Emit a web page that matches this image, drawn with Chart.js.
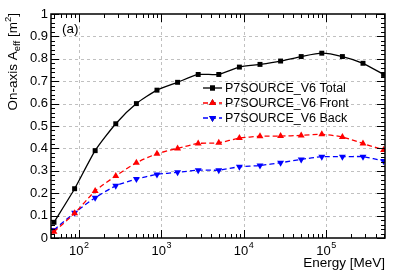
<!DOCTYPE html>
<html lang="en">

<head>
    <meta charset="UTF-8">
    <title>On-axis effective area</title>
    <script src="https://cdn.jsdelivr.net/npm/chart.js"></script>
    <style>
        body { margin: 0; background: #fff; }
    </style>
</head>

<body>
    <canvas id="aeffChart" width="399" height="274"></canvas>

    <script>
        // energies in MeV (4 points per decade)
        const energies = [50, 89, 158, 281, 500, 889, 1581, 2812, 5000, 8891, 15811, 28117, 50000, 88914, 158114, 281171, 500000];
        const totalAeff = [0.07, 0.22, 0.39, 0.51, 0.60, 0.66, 0.695, 0.73, 0.73, 0.763, 0.775, 0.79, 0.81, 0.825, 0.81, 0.78, 0.73];
        const frontAeff = [0.028, 0.11, 0.21, 0.277, 0.336, 0.376, 0.40, 0.422, 0.425, 0.446, 0.454, 0.455, 0.458, 0.463, 0.451, 0.422, 0.393];
        const backAeff = [0.036, 0.113, 0.18, 0.233, 0.263, 0.284, 0.293, 0.303, 0.303, 0.318, 0.324, 0.336, 0.351, 0.363, 0.363, 0.363, 0.344];
        const seriesNames = ['P7SOURCE_V6 Total', 'P7SOURCE_V6 Front', 'P7SOURCE_V6 Back'];
        const xDecades = [2, 3, 4, 5];
        const yTicks = [0, 0.1, 0.2, 0.3, 0.4, 0.5, 0.6, 0.7, 0.8, 0.9, 1];

        const FONT = '"Liberation Sans", Arial, sans-serif';

        function points(values) {
            return energies.map((e, i) => ({ x: e, y: values[i] }));
        }

        // ROOT-like frame, inner ticks, dashed grid, labels and legend
        const rootStyle = {
            id: 'rootStyle',
            beforeDatasetsDraw(chart) {
                const { ctx, chartArea: a, scales: { x, y } } = chart;
                ctx.save();
                ctx.strokeStyle = '#c0c0c0';
                ctx.lineWidth = 1;
                ctx.setLineDash([3, 3]);
                xDecades.forEach(d => {
                    const px = Math.round(x.getPixelForValue(Math.pow(10, d))) + 0.5;
                    ctx.beginPath();
                    ctx.moveTo(px, a.top);
                    ctx.lineTo(px, a.bottom);
                    ctx.stroke();
                });
                yTicks.slice(1, -1).forEach(v => {
                    const py = Math.round(y.getPixelForValue(v)) + 0.5;
                    ctx.beginPath();
                    ctx.moveTo(a.left, py);
                    ctx.lineTo(a.right, py);
                    ctx.stroke();
                });
                ctx.restore();
            },
            afterDatasetsDraw(chart) {
                const { ctx, chartArea: a, scales: { x, y } } = chart;
                ctx.save();
                ctx.strokeStyle = '#000';
                ctx.lineWidth = 1;
                ctx.beginPath();
                // y ticks, major every 0.1, minor every 0.02
                for (let k = 0; k <= 50; k++) {
                    const py = Math.round(y.getPixelForValue(k * 0.02)) + 0.5;
                    const len = k % 5 === 0 ? 8 : 4;
                    ctx.moveTo(a.left, py); ctx.lineTo(a.left + len, py);
                    ctx.moveTo(a.right, py); ctx.lineTo(a.right - len, py);
                }
                // x ticks, log axis
                for (let d = 1; d <= 5; d++) {
                    for (let m = 1; m <= 9; m++) {
                        const e = m * Math.pow(10, d);
                        if (e < x.min || e > x.max) continue;
                        const px = Math.round(x.getPixelForValue(e)) + 0.5;
                        const len = m === 1 ? 8 : 4;
                        ctx.moveTo(px, a.bottom); ctx.lineTo(px, a.bottom - len);
                        ctx.moveTo(px, a.top); ctx.lineTo(px, a.top + len);
                    }
                }
                ctx.stroke();
                ctx.lineWidth = 1.5;
                ctx.strokeRect(a.left, a.top, a.right - a.left, a.bottom - a.top);
                ctx.restore();
            },
            afterDraw(chart) {
                const { ctx, chartArea: a, scales: { x } } = chart;
                ctx.save();
                ctx.fillStyle = '#000';
                ctx.textBaseline = 'alphabetic';

                // x tick labels 10^n
                xDecades.forEach(d => {
                    const px = x.getPixelForValue(Math.pow(10, d));
                    ctx.font = '13px ' + FONT;
                    const wb = ctx.measureText('10').width;
                    ctx.font = '9px ' + FONT;
                    const we = ctx.measureText(String(d)).width;
                    const x0 = px - (wb + we) / 2;
                    ctx.font = '13px ' + FONT;
                    ctx.fillText('10', x0, 255);
                    ctx.font = '9px ' + FONT;
                    ctx.fillText(String(d), x0 + wb + 0.5, 248);
                });

                // x title
                ctx.font = '13.5px ' + FONT;
                ctx.textAlign = 'right';
                ctx.fillText('Energy [MeV]', a.right, 267);

                // y title, rotated, aligned to top
                const parts = [
                    { t: 'On-axis A', size: 13.5, dy: 0 },
                    { t: 'eff', size: 9.5, dy: 3 },
                    { t: ' [m', size: 13.5, dy: 0 },
                    { t: '2', size: 9.5, dy: -6 },
                    { t: ']', size: 13.5, dy: 0 }
                ];
                let total = 0;
                parts.forEach(p => { ctx.font = p.size + 'px ' + FONT; p.w = ctx.measureText(p.t).width; total += p.w; });
                ctx.translate(17, 13);
                ctx.rotate(-Math.PI / 2);
                ctx.textAlign = 'left';
                let cx = -total;
                parts.forEach(p => {
                    ctx.font = p.size + 'px ' + FONT;
                    ctx.fillText(p.t, cx, p.dy);
                    cx += p.w;
                });
                ctx.setTransform(1, 0, 0, 1, 0, 0);

                // (a) label
                ctx.font = '13.5px ' + FONT;
                ctx.textAlign = 'left';
                ctx.fillText('(a)', 62, 33);

                // legend
                chart.data.datasets.forEach((ds, i) => {
                    const ly = 88 + i * 15;
                    ctx.save();
                    ctx.strokeStyle = ds.borderColor;
                    ctx.lineWidth = ds.borderWidth;
                    ctx.setLineDash(ds.borderDash || []);
                    ctx.beginPath();
                    ctx.moveTo(203, ly);
                    ctx.lineTo(222, ly);
                    ctx.stroke();
                    ctx.restore();
                    Chart.helpers.drawPoint(ctx, {
                        pointStyle: ds.pointStyle,
                        rotation: ds.pointRotation || 0,
                        radius: ds.pointRadius,
                        borderWidth: 0
                    }, 212.5, ly);
                    ctx.fillStyle = ds.borderColor;
                    ctx.fill();
                    ctx.fillStyle = '#000';
                    ctx.font = '12.5px ' + FONT;
                    ctx.textBaseline = 'middle';
                    ctx.fillText(ds.label, 225, ly + 0.5);
                });
                ctx.restore();
            }
        };

        const ctx = document.getElementById('aeffChart').getContext('2d');
        const aeffChart = new Chart(ctx, {
            type: 'line',
            data: {
                datasets: [{
                    label: seriesNames[0],
                    data: points(totalAeff),
                    borderColor: '#000000',
                    backgroundColor: '#000000',
                    borderWidth: 1.3,
                    pointStyle: 'rect',
                    pointRadius: 3.5,
                    pointBorderWidth: 0,
                    tension: 0.2
                }, {
                    label: seriesNames[1],
                    data: points(frontAeff),
                    borderColor: '#ff0000',
                    backgroundColor: '#ff0000',
                    borderWidth: 1.3,
                    borderDash: [5, 3],
                    pointStyle: 'triangle',
                    pointRadius: 4,
                    pointBorderWidth: 0,
                    tension: 0.2
                }, {
                    label: seriesNames[2],
                    data: points(backAeff),
                    borderColor: '#0000ff',
                    backgroundColor: '#0000ff',
                    borderWidth: 1.3,
                    borderDash: [5, 3],
                    pointStyle: 'triangle',
                    pointRotation: 180,
                    pointRadius: 4,
                    pointBorderWidth: 0,
                    tension: 0.2
                }]
            },
            options: {
                responsive: false,
                animation: false,
                layout: { padding: { top: 14, right: 14, left: 0, bottom: 0 } },
                plugins: {
                    legend: { display: false },
                    tooltip: { enabled: false }
                },
                scales: {
                    x: {
                        type: 'logarithmic',
                        min: 46,
                        max: 520000,
                        grid: { display: false, drawTicks: false },
                        border: { display: false },
                        ticks: { display: false },
                        afterFit(scale) { scale.height = 36; }
                    },
                    y: {
                        min: 0,
                        max: 1,
                        grid: { display: false, drawTicks: false },
                        border: { display: false },
                        ticks: {
                            stepSize: 0.1,
                            padding: 3,
                            color: '#000',
                            font: { size: 13, family: FONT },
                            callback: v => String(Math.round(v * 10) / 10)
                        },
                        afterFit(scale) { scale.width = 51; }
                    }
                }
            },
            plugins: [rootStyle]
        });
    </script>
</body>

</html>
